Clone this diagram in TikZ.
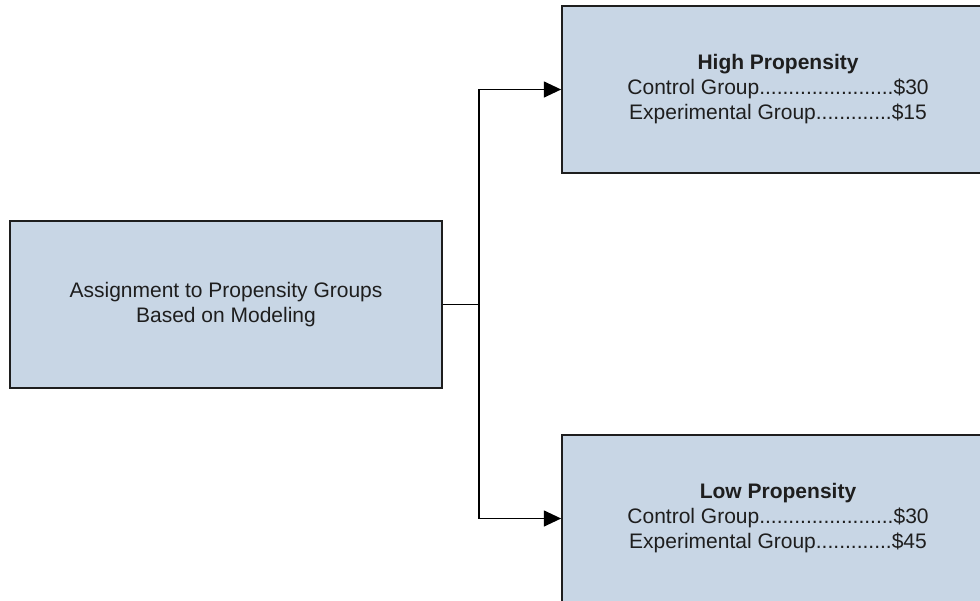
\documentclass[tikz,border=0pt]{standalone}
\usepackage{fontspec}
\setmainfont{Liberation Sans}
\usepackage{tikz}
\usetikzlibrary{arrows.meta}
\definecolor{boxfill}{RGB}{200,214,229}
\definecolor{inkgray}{RGB}{30,30,30}

\begin{document}
\begin{tikzpicture}[x=0.75pt, y=-0.75pt,
        groupbox/.style={draw=inkgray, line width=1.3pt, fill=boxfill,
            minimum width=324pt, minimum height=125pt, align=center,
            text=inkgray, inner sep=0pt,
            font=\fontsize{15.75pt}{18.75pt}\selectfont},
        link/.style={draw=black, line width=1.1pt},
        linkarrow/.style={link, -{Triangle[length=13pt, width=12pt]}}]
            \useasboundingbox (0,0) rectangle (980,600);
            \clip (0,0) rectangle (980,600);
            \fill[white] (0,0) rectangle (980,600);

            \node[groupbox] (assign) at (226, 304.5) {Assignment to Propensity Groups\\Based on Modeling};
            \node[groupbox] (high) at (778, 89.5) {\textbf{High Propensity}\\Control Group.......................\$30\\Experimental Group.............\$15};
            \node[groupbox] (low) at (778, 518.5) {\textbf{Low Propensity}\\Control Group.......................\$30\\Experimental Group.............\$45};

            \coordinate (split) at (479, 304.5);
            \draw[link] (assign.east) -- (split);
            \draw[linkarrow] (split) |- (high.west);
            \draw[linkarrow] (split) |- (low.west);
        \end{tikzpicture}
\end{document}
